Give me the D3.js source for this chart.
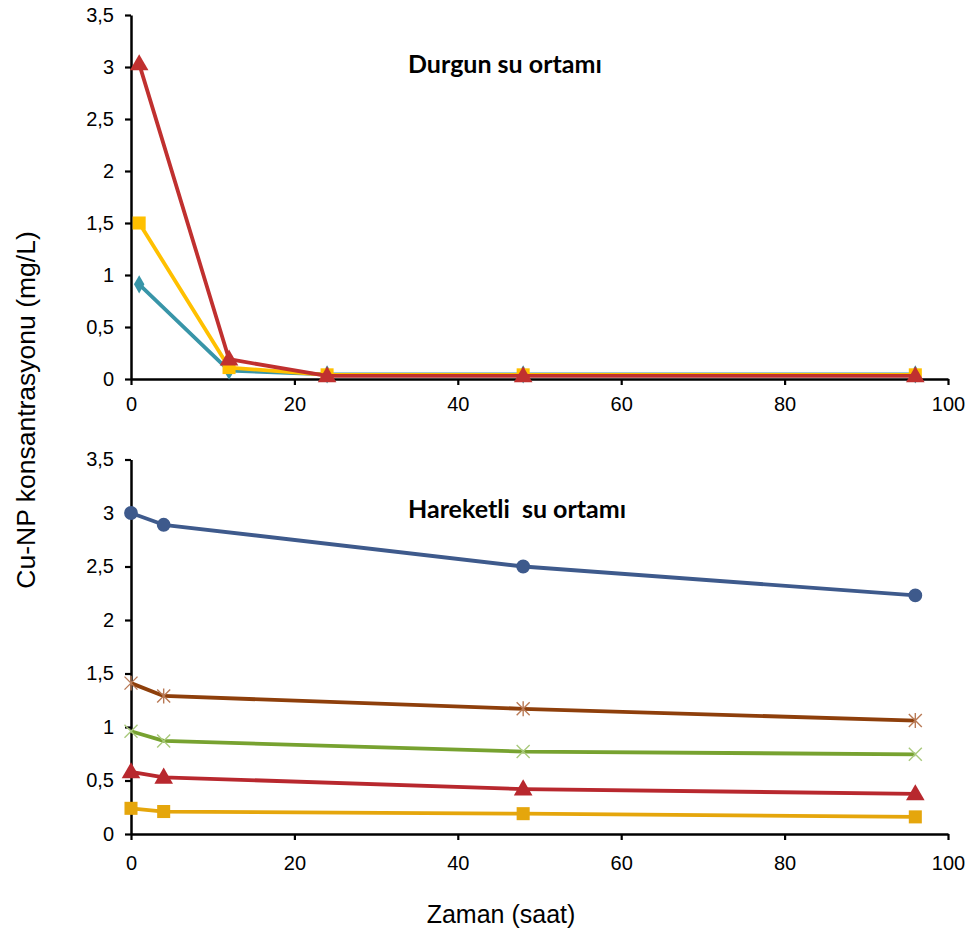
<!DOCTYPE html>
<html>
<head>
<meta charset="utf-8">
<script src="https://cdn.jsdelivr.net/npm/d3@7"></script>
<style>
  html, body { margin: 0; padding: 0; background: #fff; }
  svg { display: block; }
  .tick text { font-family: "Liberation Sans", Arial, sans-serif; font-size: 20px; fill: #000; }
  .panel-title { font-family: Lato, "Open Sans", sans-serif; font-weight: bold; font-size: 25px; fill: #000; white-space: pre; }
  .axis-title { font-family: "Liberation Sans", Arial, sans-serif; font-size: 25px; fill: #000; }
</style>
</head>
<body>
<svg id="chart" width="971" height="936"></svg>
<script>
// Time points (hours)
const stillHours = [1, 12, 24, 48, 96];
const flowHours = [0, 4, 48, 96];

// Cu-NP concentration (mg/L), still water
const stillTeal = [0.91, 0.08, 0.045, 0.045, 0.045];
const stillAmber = [1.5, 0.11, 0.04, 0.04, 0.04];
const stillRed = [3.03, 0.19, 0.03, 0.03, 0.03];

// Cu-NP concentration (mg/L), moving water
const flowNavy = [3.0, 2.89, 2.5, 2.23];
const flowBrown = [1.41, 1.29, 1.17, 1.06];
const flowGreen = [0.96, 0.87, 0.77, 0.745];
const flowRed = [0.58, 0.53, 0.42, 0.375];
const flowAmber = [0.24, 0.21, 0.19, 0.16];

// Tick labels
const xTicks = [0, 20, 40, 60, 80, 100];
const yTicks = [0, 0.5, 1, 1.5, 2, 2.5, 3, 3.5];

const titleStill = "Durgun su ortamı";
const titleFlow = "Hareketli  su ortamı";
const xTitle = "Zaman (saat)";
const yTitle = "Cu-NP konsantrasyonu (mg/L)";

const svg = d3.select("#chart");
svg.append("rect").attr("width", 971).attr("height", 936).attr("fill", "#fff");

const fmt = v => String(v).replace(".", ",");

// custom stroke markers: asterisk (x + vertical bar) and x
const asteriskPath = s => `M${-s},${-s}L${s},${s}M${-s},${s}L${s},${-s}M0,${-s * 1.15}L0,${s * 1.15}`;
const crossPath = s => `M${-s},${-s}L${s},${s}M${-s},${s}L${s},${-s}`;

function drawPanel(cfg) {
  const x = d3.scaleLinear().domain([0, 100]).range([cfg.left, cfg.right]);
  const y = d3.scaleLinear().domain([0, 3.5]).range([cfg.bottom, cfg.top]);

  const xAxis = svg.append("g")
    .attr("transform", `translate(0,${cfg.bottom})`)
    .call(d3.axisBottom(x).tickValues(xTicks).tickSize(6).tickSizeOuter(0).tickPadding(cfg.xPad).tickFormat(d => d));
  const yAxis = svg.append("g")
    .attr("transform", `translate(${cfg.left},0)`)
    .call(d3.axisLeft(y).tickValues(yTicks).tickSize(6).tickSizeOuter(0).tickPadding(11).tickFormat(fmt));
  [xAxis, yAxis].forEach(a => {
    a.select(".domain").attr("stroke", "#000").attr("stroke-width", 2.5);
    a.selectAll(".tick line").attr("stroke", "#000").attr("stroke-width", 2.2);
  });

  const line = d3.line()
    .x(d => x(d[0]))
    .y(d => y(d[1]))
    .curve(cfg.curve);

  cfg.series.forEach(s => {
    const pts = cfg.hours.map((h, i) => [h, s.values[i]]);
    svg.append("path")
      .datum(pts)
      .attr("fill", "none")
      .attr("stroke", s.color)
      .attr("stroke-width", 3.8)
      .attr("stroke-linejoin", "round")
      .attr("d", line);

    const g = svg.append("g");
    pts.forEach(p => {
      const px = x(p[0]), py = y(p[1]);
      if (s.marker === "asterisk" || s.marker === "cross") {
        g.append("path")
          .attr("transform", `translate(${px},${py})`)
          .attr("d", s.marker === "asterisk" ? asteriskPath(6.5) : crossPath(6.5))
          .attr("fill", "none")
          .attr("stroke", s.markerColor)
          .attr("stroke-width", 1.4);
      } else {
        const type = { circle: d3.symbolCircle, square: d3.symbolSquare, triangle: d3.symbolTriangle, diamond: d3.symbolDiamond }[s.marker];
        g.append("path")
          .attr("transform", `translate(${px},${py + (s.marker === "triangle" ? 1 : 0)})`)
          .attr("d", d3.symbol().type(type).size(s.size)())
          .attr("fill", s.markerColor);
      }
    });
  });

  svg.append("text")
    .attr("class", "panel-title")
    .attr("x", cfg.titleX)
    .attr("y", cfg.titleY)
    .text(cfg.title);
}

drawPanel({
  left: 131, right: 948, top: 15, bottom: 379, xPad: 12,
  hours: stillHours,
  curve: d3.curveLinear,
  title: titleStill, titleX: 408, titleY: 73,
  series: [
    { values: stillTeal, color: "#3895A8", markerColor: "#3895A8", marker: "diamond", size: 95 },
    { values: stillAmber, color: "#FFC000", markerColor: "#FFC000", marker: "square", size: 170 },
    { values: stillRed, color: "#C0302F", markerColor: "#C0302F", marker: "triangle", size: 150 }
  ]
});

drawPanel({
  left: 131, right: 948, top: 459.5, bottom: 834, xPad: 16,
  hours: flowHours,
  curve: d3.curveLinear,
  title: titleFlow, titleX: 408, titleY: 518,
  series: [
    { values: flowNavy, color: "#3E5A8C", markerColor: "#3E5A8C", marker: "circle", size: 150 },
    { values: flowBrown, color: "#8E3F0B", markerColor: "#B97A56", marker: "asterisk" },
    { values: flowGreen, color: "#77A230", markerColor: "#A9C97C", marker: "cross" },
    { values: flowRed, color: "#B8282E", markerColor: "#B8282E", marker: "triangle", size: 150 },
    { values: flowAmber, color: "#E5A60C", markerColor: "#E5A60C", marker: "square", size: 170 }
  ]
});

svg.append("text")
  .attr("class", "axis-title")
  .attr("x", 501)
  .attr("y", 923)
  .attr("text-anchor", "middle")
  .text(xTitle);

svg.append("text")
  .attr("class", "axis-title")
  .attr("transform", "translate(35,410) rotate(-90)")
  .attr("text-anchor", "middle")
  .style("font-size", "26.5px")
  .text(yTitle);
</script>
</body>
</html>
